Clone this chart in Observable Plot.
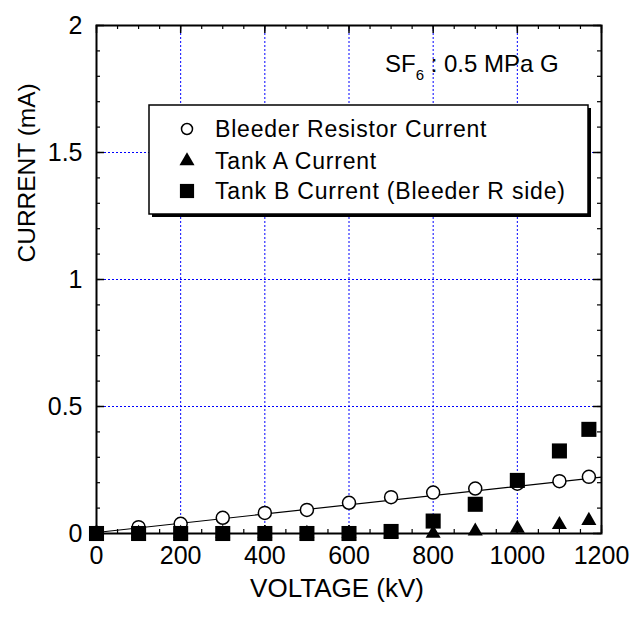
<!DOCTYPE html>
<html>
<head>
<meta charset="utf-8">
<script src="https://cdn.jsdelivr.net/npm/d3@7"></script>
<script src="https://cdn.jsdelivr.net/npm/@observablehq/plot@0.6"></script>
<style>
  html, body { margin: 0; padding: 0; background: #fff; }
  #chart svg { display: block; }
</style>
</head>
<body>
<div id="chart"></div>
<script>
// ---- data ----
const voltage = [0, 100, 200, 300, 400, 500, 600, 700, 800, 900, 1000, 1100, 1170];
const bleederCurrent = [0, 0.025, 0.038, 0.062, 0.081, 0.093, 0.121, 0.143, 0.161, 0.177, 0.196, 0.206, 0.223];
const tankACurrent = [0, 0, 0, 0, 0, 0, 0, 0, 0, 0.009, 0.020, 0.035, 0.051];
const tankBCurrent = [0, 0, 0, 0, 0, 0, 0, 0.008, 0.049, 0.115, 0.209, 0.325, 0.410];
const fitVoltage = [0, 1200];
const fitCurrent = [0.004, 0.222];

const xMajor = [0, 200, 400, 600, 800, 1000, 1200];
const xMinor = d3.range(0, 1201, 50);
const yMajor = [0, 0.5, 1, 1.5, 2];
const yMinor = d3.range(0, 2.001, 0.1).map(d => +d.toFixed(2));
const xGrid = [200, 400, 600, 800, 1000];
const yGrid = [0.5, 1, 1.5];

const legendItems = ["Bleeder Resistor Current", "Tank A Current", "Tank B Current (Bleeder R side)"];
const legendSymbols = ["circle", "triangle", "square"];
const xTitle = "VOLTAGE (kV)";
const yTitle = "CURRENT (mA)";

const rows = voltage.map((v, i) => ({v, b: bleederCurrent[i], a: tankACurrent[i], t: tankBCurrent[i]}));
const fit = fitVoltage.map((v, i) => ({v, c: fitCurrent[i]}));

const W = 643, H = 619;
const mL = 96, mR = 42, mT = 25, mB = 86;
const iw = W - mL - mR, ih = H - mT - mB;
const fmt = d => d === 0 ? "0" : String(d);

const chart = Plot.plot({
  width: W, height: H,
  marginLeft: mL, marginRight: mR, marginTop: mT, marginBottom: mB,
  style: {fontFamily: "'Liberation Sans', Arial, sans-serif", background: "white", color: "black"},
  x: {domain: [0, 1200]},
  y: {domain: [0, 2]},
  marks: [
    Plot.ruleX(xGrid, {x: d => d, stroke: "#0000ff", strokeDasharray: "2,2", strokeWidth: 1}),
    Plot.ruleY(yGrid, {y: d => d, stroke: "#0000ff", strokeDasharray: "2,2", strokeWidth: 1}),
    // inward ticks
    Plot.tickX(xMajor, {x: d => d, insetTop: ih - 8, stroke: "black", strokeWidth: 1.5}),
    Plot.tickX(xMajor, {x: d => d, insetBottom: ih - 8, stroke: "black", strokeWidth: 1.5}),
    Plot.tickX(xMinor, {x: d => d, insetTop: ih - 4, stroke: "black", strokeWidth: 1.2}),
    Plot.tickX(xMinor, {x: d => d, insetBottom: ih - 4, stroke: "black", strokeWidth: 1.2}),
    Plot.tickY(yMajor, {y: d => d, insetRight: iw - 8, stroke: "black", strokeWidth: 1.5}),
    Plot.tickY(yMajor, {y: d => d, insetLeft: iw - 8, stroke: "black", strokeWidth: 1.5}),
    Plot.tickY(yMinor, {y: d => d, insetRight: iw - 4, stroke: "black", strokeWidth: 1.2}),
    Plot.tickY(yMinor, {y: d => d, insetLeft: iw - 4, stroke: "black", strokeWidth: 1.2}),
    Plot.axisX(xMajor, {tickSize: 0, tickPadding: 13, fontSize: 25, tickFormat: fmt, label: null}),
    Plot.axisY(yMajor, {tickSize: 0, tickPadding: 14, fontSize: 25, tickFormat: fmt, label: null}),
    Plot.text([xTitle], {frameAnchor: "bottom", dy: 63, dx: -12, fontSize: 26, fill: "black"}),
    Plot.text([yTitle], {frameAnchor: "left", rotate: -90, dx: -69, dy: -17, fontSize: 24.5, fill: "black"}),
    // data
    Plot.line(fit, {x: "v", y: "c", stroke: "black", strokeWidth: 1.2}),
    Plot.dot(rows, {x: "v", y: "b", r: 6.5, symbol: "circle", stroke: "black", fill: "white", strokeWidth: 1.5}),
    Plot.dot(rows, {x: "v", y: "a", r: 5.6, symbol: "triangle", fill: "black", stroke: "none"}),
    Plot.dot(rows, {x: "v", y: "t", r: 8.5, symbol: "square", fill: "black", stroke: "none"}),
    Plot.frame({stroke: "black", strokeWidth: 2})
  ]
});

document.getElementById("chart").appendChild(chart);

// annotation and legend (inside the plot area)
const svg = d3.select(chart);
const ann = svg.append("text")
  .attr("x", 385).attr("y", 72)
  .attr("text-anchor", "start")
  .attr("font-family", "'Liberation Sans', Arial, sans-serif")
  .attr("font-size", 24).attr("fill", "black");
ann.append("tspan").text("SF");
ann.append("tspan").attr("font-size", 15).attr("dy", 8).text("6");
ann.append("tspan").attr("dy", -8).text(" : 0.5 MPa G");

const lg = svg.append("g").attr("text-anchor", "start");
lg.append("rect").attr("x", 152).attr("y", 108).attr("width", 439).attr("height", 109).attr("fill", "black");
lg.append("rect").attr("x", 149).attr("y", 105).attr("width", 439).attr("height", 109)
  .attr("fill", "white").attr("stroke", "black").attr("stroke-width", 1.5);
const sym = {circle: d3.symbolCircle, triangle: d3.symbolTriangle, square: d3.symbolSquare};
const symSize = {circle: Math.PI * 5.5 * 5.5, triangle: Math.PI * 5.6 * 5.6, square: Math.PI * 8 * 8};
const ys = [129, 161, 191];
legendItems.forEach((label, i) => {
  const s = legendSymbols[i];
  lg.append("path")
    .attr("transform", `translate(187,${ys[i]})`)
    .attr("d", d3.symbol(sym[s], symSize[s])())
    .attr("fill", s === "circle" ? "white" : "black")
    .attr("stroke", s === "circle" ? "black" : "none")
    .attr("stroke-width", 1.5);
  lg.append("text").attr("x", 215).attr("y", ys[i]).attr("dy", "0.35em")
    .attr("text-anchor", "start")
    .attr("font-family", "'Liberation Sans', Arial, sans-serif")
    .attr("font-size", 23).attr("letter-spacing", 0.8).attr("fill", "black").text(label);
});
</script>
</body>
</html>
